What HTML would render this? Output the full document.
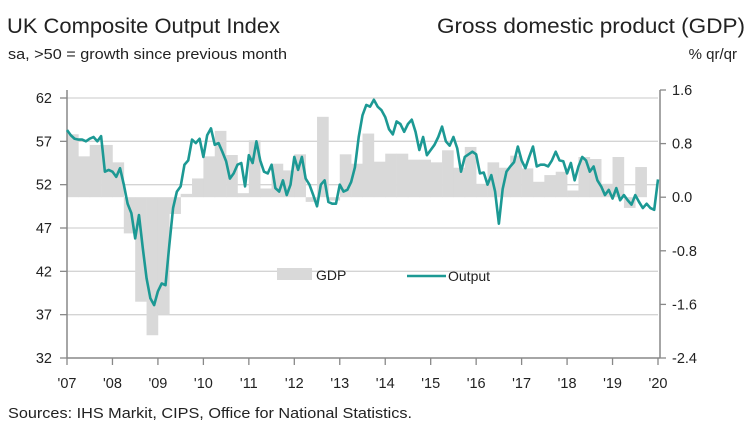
<!DOCTYPE html>
<html><head><meta charset="utf-8">
<style>
body{margin:0;background:#fff;}
svg{display:block;font-family:"Liberation Sans",sans-serif;}
</style></head>
<body>
<svg id="chart" width="753" height="440" viewBox="0 0 753 440">
<text x="7" y="33" font-size="21.5" fill="#222" textLength="273" lengthAdjust="spacingAndGlyphs">UK Composite Output Index</text>
<text x="8" y="59" font-size="15" fill="#222" textLength="279" lengthAdjust="spacingAndGlyphs">sa, &gt;50 = growth since previous month</text>
<text x="745" y="33" font-size="21.5" fill="#222" text-anchor="end" textLength="308" lengthAdjust="spacingAndGlyphs">Gross domestic product (GDP)</text>
<text x="737" y="59" font-size="15" fill="#222" text-anchor="end">% qr/qr</text>
<g id="grid"></g>
<g id="bars"></g>
<g id="axes"></g>
<path id="line" fill="none" stroke="#1c9994" stroke-width="2.6" stroke-linejoin="round"></path>
<g>
<rect x="277" y="268" width="35" height="12" fill="#d9d9d9"></rect>
<text x="316" y="280" font-size="14" fill="#222">GDP</text>
<line x1="407" y1="276" x2="446" y2="276" stroke="#1c9994" stroke-width="2.6"></line>
<text x="448" y="281" font-size="14" fill="#222">Output</text>
</g>
<text x="8" y="418" font-size="15" fill="#222" textLength="404" lengthAdjust="spacingAndGlyphs">Sources: IHS Markit, CIPS, Office for National Statistics.</text>
</svg>
<script>
const leftTicks=[62,57,52,47,42,37,32];
const rightTicks=["1.6","0.8","0.0","-0.8","-1.6","-2.4"];
const rightTickValues=[1.6,0.8,0.0,-0.8,-1.6,-2.4];
const yearLabels=["'07","'08","'09","'10","'11","'12","'13","'14","'15","'16","'17","'18","'19","'20"];
const gdp=[0.94,0.61,0.78,0.78,0.52,-0.54,-1.56,-2.06,-1.75,-0.25,0.05,0.28,0.61,0.99,0.63,0.06,0.85,0.13,0.5,0.4,0.64,-0.07,1.2,-0.05,0.64,0.5,0.95,0.53,0.65,0.65,0.56,0.56,0.52,0.7,0.44,0.75,0.2,0.52,0.44,0.62,0.43,0.23,0.33,0.38,0.1,0.6,0.57,0.2,0.6,-0.16,0.45,0.0];
const output=[58.3,57.7,57.3,57.2,57.2,57.0,57.3,57.5,57.0,57.6,53.5,53.7,53.5,52.9,53.9,52.0,49.8,48.7,45.8,48.5,44.7,41.2,38.9,38.1,39.7,40.6,40.4,45.0,49.3,51.2,51.8,54.3,54.8,57.2,56.8,57.3,55.2,57.7,58.5,56.6,56.8,55.8,54.7,52.7,53.3,54.3,54.5,51.8,55.4,54.5,57.0,54.8,53.5,53.3,54.3,51.6,51.2,52.5,50.8,52.0,55.2,53.7,55.2,52.7,52.0,50.8,49.5,52.0,52.5,50.0,49.8,49.8,52.0,51.2,51.4,52.3,54.0,
57.5,60.0,61.2,61.0,61.8,61.0,60.6,59.8,58.4,57.8,59.3,59.0,58.1,59.0,59.5,58.1,56.0,57.5,55.4,56.0,56.6,57.5,58.7,57.0,56.5,57.5,56.2,53.5,55.2,55.5,55.8,55.5,53.3,53.4,52.0,53.1,51.2,47.5,51.5,53.5,54.1,54.6,56.4,54.8,53.9,55.2,56.4,54.1,54.3,54.3,54.1,54.8,55.8,54.8,54.7,53.3,54.5,52.5,54.1,55.2,54.8,53.5,54.1,52.5,51.8,50.8,51.4,50.4,51.6,50.2,50.8,50.2,49.7,50.8,50.0,49.3,49.8,49.3,49.1,52.6];

const X0=67,X1=658,YEARS=13;
const yL=v=>98+(62-v)*(260/30);
const yR=v=>90+(1.6-v)*67;
const xYear=t=>X0+t*(X1-X0)/YEARS;
const NS="http://www.w3.org/2000/svg";
function mk(tag,attrs,parent){const e=document.createElementNS(NS,tag);for(const k in attrs)e.setAttribute(k,attrs[k]);parent.appendChild(e);return e;}
const grid=document.getElementById('grid'),bars=document.getElementById('bars'),axes=document.getElementById('axes');

leftTicks.forEach((v,i)=>{
  const y=yL(v);
  if(v>32){const g=mk('line',{x1:X0,x2:X1,y1:y,y2:y,stroke:'#d4d4d4','stroke-width':1.3},grid);
  
  }
  const t=mk('line',{x1:X0-7,x2:X0,y1:y,y2:y,stroke:'#888','stroke-width':1.3},axes);
  
  
  const l=mk('text',{x:52,y:y+5,'font-size':14.5,'text-anchor':'end',fill:'#222'},axes);l.textContent=v;
  
  
});
rightTickValues.forEach((v,i)=>{
  const y=yR(v);
  const t=mk('line',{x1:X1+2,x2:X1+8,y1:y,y2:y,stroke:'#888','stroke-width':1.3},axes);
  
  
  const l=mk('text',{x:672,y:y+5,'font-size':14.5,fill:'#222'},axes);l.textContent=rightTicks[i];
  
  
});
const bw=(X1-X0)/(YEARS*4);
gdp.forEach((v,i)=>{
  const x=X0+i*bw,y0=yR(0),y1=yR(v);
  const r=mk('rect',{x:x,y:Math.min(y0,y1),width:bw+0.3,height:Math.abs(y1-y0),fill:'#d9d9d9'},bars);
  
  
});
let a=mk('line',{x1:X0,x2:X0,y1:90,y2:358,stroke:'#888','stroke-width':1.5},axes);


a=mk('line',{x1:X1+2,x2:X1+2,y1:90,y2:358,stroke:'#888','stroke-width':1.5},axes);


a=mk('line',{x1:X0,x2:X1+2,y1:358,y2:358,stroke:'#888','stroke-width':1.5},axes);


yearLabels.forEach((s,i)=>{
  const x=xYear(i);
  const t=mk('line',{x1:x,x2:x,y1:358,y2:365,stroke:'#888','stroke-width':1.3},axes);
  
  
  const l=mk('text',{x:x,y:388,'font-size':14.5,'text-anchor':'middle',fill:'#222'},axes);l.textContent=s;
  
  
});
const d=output.map((v,i)=>(i?'L':'M')+(X0+i*(X1-X0)/(YEARS*12)).toFixed(2)+' '+yL(v).toFixed(2)).join(' ');
document.getElementById('line').setAttribute('d',d);
</script>
</body></html>
